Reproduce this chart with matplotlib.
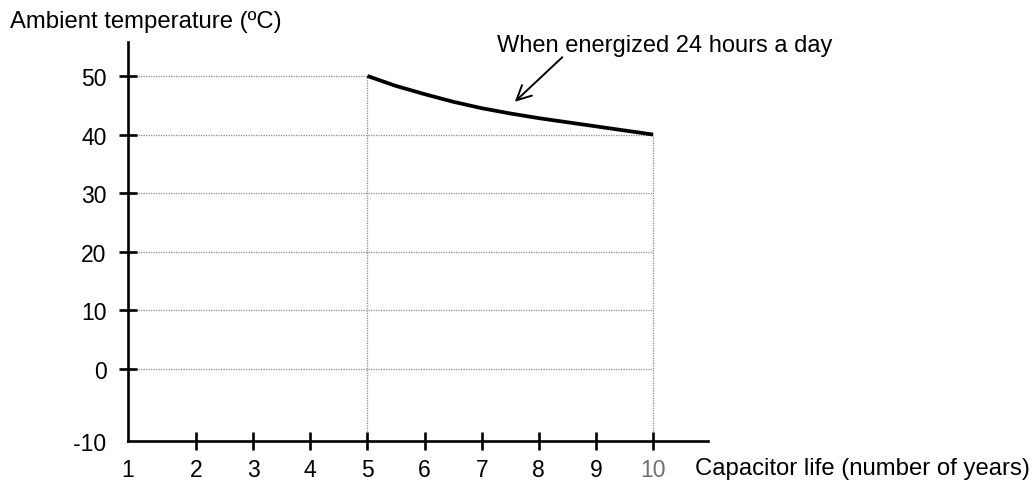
import matplotlib
matplotlib.use("Agg")
import matplotlib.pyplot as plt

plt.rcParams['font.family'] = ['Liberation Sans', 'DejaVu Sans']

# Data
life_years = [5, 5.5, 6, 6.5, 7, 7.5, 8, 8.5, 9, 9.5, 10]
ambient_temp = [50, 48.3, 46.9, 45.6, 44.5, 43.6, 42.8, 42.1, 41.4, 40.7, 40]
x_ticks = [1, 2, 3, 4, 5, 6, 7, 8, 9, 10]
x_tick_labels = ["1", "2", "3", "4", "5", "6", "7", "8", "9", "10"]
y_ticks = [-10, 0, 10, 20, 30, 40, 50]
y_tick_labels = ["-10", "0", "10", "20", "30", "40", "50"]
title = "Ambient temperature (ºC)"
xlabel = "Capacitor life (number of years)"
note = "When energized 24 hours a day"

W, H = 1032, 481
fig = plt.figure(figsize=(W / 100, H / 100), dpi=100)
ax = fig.add_axes([128 / W, 1 - 442 / H, (708 - 128) / W, (442 - 43) / H])

X_LEFT, X_RIGHT = 0.81, 10.96
Y_BOTTOM, Y_TOP = -12.3, 55.8
ax.set_xlim(X_LEFT, X_RIGHT)
ax.set_ylim(Y_BOTTOM, Y_TOP)

# grid lines (dotted)
gc = '#8a8a8a'
gkw = dict(ls=(0, (1, 1)), lw=0.9, color=gc, zorder=1)
ax.plot([X_LEFT, 5], [50, 50], **gkw)
for v in [0, 10, 20, 30, 40]:
    ax.plot([X_LEFT, 10], [v, v], **gkw)
ax.plot([5, 5], [Y_BOTTOM, 50], **gkw)
ax.plot([10, 10], [Y_BOTTOM, 40], **gkw)

# curve
ax.plot(life_years, ambient_temp, color='black', lw=2.7, solid_capstyle='butt', zorder=3)

# spines
for s in ['top', 'right']:
    ax.spines[s].set_visible(False)
for s in ['left', 'bottom']:
    ax.spines[s].set_linewidth(1.9)

# ticks: first label sits at the axis origin
x_pos = [X_LEFT] + x_ticks[1:]
y_pos = [Y_BOTTOM] + y_ticks[1:]
ax.set_xticks(x_pos)
ax.set_xticklabels(x_tick_labels, fontsize=16.5)
ax.set_yticks(y_pos)
ax.set_yticklabels(y_tick_labels, fontsize=16.5)
ax.tick_params(axis='x', direction='inout', length=13, width=1.9, pad=5.5)
ax.tick_params(axis='y', direction='inout', length=13, width=1.9, pad=9)
ax.xaxis.get_major_ticks()[0].tick1line.set_visible(False)
ax.yaxis.get_major_ticks()[0].tick1line.set_visible(False)
ax.get_xticklabels()[-1].set_color('#707070')

# texts
fig.text(10 / W, 1 - 28 / H, title, fontsize=17.2, va='baseline', ha='left')
fig.text(695 / W, 1 - 475 / H, xlabel, fontsize=17.2, va='baseline', ha='left')
ax.annotate('', xy=(7.58, 45.6), xytext=(8.41, 53.2),
            arrowprops=dict(arrowstyle='->', lw=1.4, color='black',
                            mutation_scale=26, shrinkA=0, shrinkB=0))
ax.text(7.27, 54.3, note, fontsize=17, va='baseline', ha='left', clip_on=False)

fig.savefig('out.png', dpi=100)
